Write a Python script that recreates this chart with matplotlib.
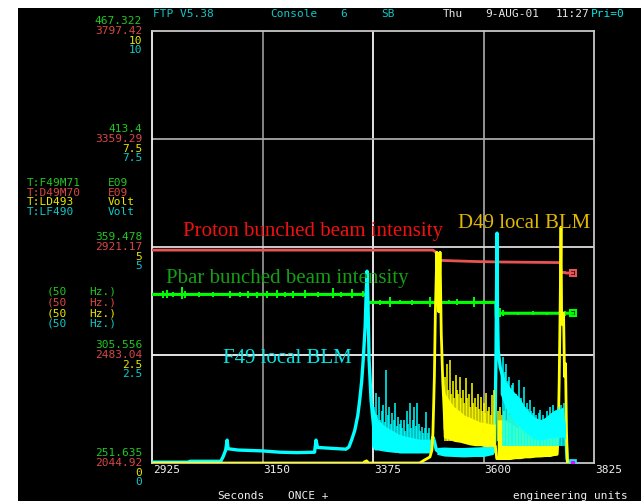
import matplotlib
matplotlib.use("Agg")
import matplotlib.pyplot as plt
from matplotlib.patches import Rectangle

W, H = 641, 501

# time axis (seconds)
t_lim = (2925, 3825)
t_ticks = [2925, 3150, 3375, 3600, 3825]
t_tick_labels = ["2925", "3150", "3375", "3600", "3825"]

# channel scales, bottom and top of the plot
f49_lim = (251.635, 467.322)
d49_lim = (2044.92, 3797.42)
volt_lim = (0, 10)
volt_ticks = [10, 7.5, 5, 2.5, 0]

f49_labels = ["467.322", "413.4", "359.478", "305.556", "251.635"]
d49_labels = ["3797.42", "3359.29", "2921.17", "2483.04", "2044.92"]
ld493_labels = ["10", "7.5", "5", "2.5", "0"]
lf490_labels = ["10", "7.5", "5", "2.5", "0"]

# T:F49M71  pbar bunched intensity (E09)
pbar_t = [2925, 3362, 3363, 3365, 3367, 3625, 3626, 3628, 3631, 3782]
pbar_v = [335.8, 335.8, 333.0, 331.0, 331.8, 331.8, 324.5, 325.0, 326.4, 326.4]
pbar_spk_t = [2947, 2955, 2968, 2986, 2992, 3020, 3049, 3084, 3104, 3120, 3139, 3159,
              3179, 3196, 3212, 3236, 3262, 3293, 3310, 3332, 3354,
              3390, 3410, 3430, 3455, 3491, 3507, 3530, 3546, 3580, 3600,
              3629, 3634, 3640, 3670, 3700, 3730, 3757, 3765]
pbar_spk_lo = [334.0, 334.2, 334.4, 333.5, 334.0, 334.6, 334.3, 334.0, 334.4, 334.0, 334.2, 334.2,
               334.0, 334.3, 334.2, 334.0, 334.3, 334.0, 334.6, 334.2, 334.3,
               330.5, 329.5, 330.8, 330.5, 329.5, 330.0, 330.8, 330.5, 329.5, 330.8,
               324.0, 324.5, 325.0, 325.6, 325.5, 325.6, 324.8, 325.2]
pbar_spk_hi = [337.5, 337.8, 337.0, 339.5, 337.5, 336.8, 337.2, 337.5, 337.0, 337.6, 337.2, 337.4,
               337.8, 337.2, 337.5, 338.0, 337.2, 339.0, 336.8, 338.4, 337.5,
               333.0, 334.5, 332.8, 333.2, 334.5, 334.0, 333.0, 333.4, 334.6, 333.0,
               329.5, 329.0, 328.0, 327.2, 327.5, 327.2, 328.5, 327.5]

# T:D49M70  proton bunched intensity (E09)
proton_t = [2925, 3497, 3501, 3505, 3509, 3511, 3540, 3580, 3627, 3680, 3756,
            3757, 3758, 3766, 3767, 3782]
proton_v = [2908.5, 2908.5, 2903.0, 2896.0, 2876.0, 2867.0, 2865.0, 2862.5, 2860.5,
            2859.5, 2858.0, 2840.0, 2818.0, 2818.0, 2815.7, 2815.7]

# T:LF490  F49 local BLM (Volt)
lf490_t = [2925, 3000, 3002, 3065, 3070, 3075, 3078, 3080, 3100, 3125, 3150, 3185,
           3220, 3256, 3259, 3262, 3290, 3320, 3326, 3332, 3338, 3344, 3348, 3352,
           3355, 3359, 3361, 3363, 3365, 3367, 3371, 3375, 3380, 3430, 3490, 3493,
           3497, 3500, 3504, 3510, 3620, 3623, 3625.5, 3627.5, 3628.5, 3630, 3634,
           3638, 3644, 3654, 3674, 3695, 3715, 3735, 3755, 3766, 3768, 3770, 3772, 3782]
lf490_v = [0.02, 0.02, 0.04, 0.04, 0.15, 0.30, 0.53, 0.33, 0.30, 0.29, 0.28, 0.25,
           0.24, 0.25, 0.53, 0.36, 0.34, 0.32, 0.37, 0.55, 0.76, 1.10, 1.46, 1.90,
           2.38, 3.15, 3.90, 4.44, 3.60, 2.40, 1.46, 1.00, 0.40, 0.26, 0.26, 0.45,
           0.60, 0.50, 0.30, 0.25, 0.25, 0.50, 2.50, 5.32, 3.47, 2.60, 2.22,
           2.05, 1.60, 1.20, 0.85, 0.65, 0.55, 0.58, 0.62, 0.90, 0.60, 0.10, 0.0, 0.0]
lf490_b1_t = [3372, 3378, 3385, 3400, 3415, 3430, 3450, 3470, 3490]
lf490_b1_lo = [0.40, 0.30, 0.30, 0.27, 0.25, 0.24, 0.24, 0.24, 0.26]
lf490_b1_hi = [1.40, 1.20, 1.00, 0.85, 0.75, 0.65, 0.60, 0.55, 0.55]
lf490_b2_t = [3505, 3520, 3540, 3560, 3580, 3600, 3620]
lf490_b2_lo = [0.20, 0.16, 0.15, 0.14, 0.15, 0.15, 0.20]
lf490_b2_hi = [0.36, 0.37, 0.36, 0.36, 0.37, 0.38, 0.40]
lf490_b3_t = [3634, 3644, 3654, 3664, 3674, 3684, 3695, 3705, 3715, 3725, 3735,
              3745, 3755, 3762, 3767]
lf490_b3_lo = [1.60, 1.30, 1.10, 0.95, 0.83, 0.72, 0.62, 0.55, 0.53, 0.55, 0.58,
               0.60, 0.60, 0.60, 0.55]
lf490_b3_hi = [2.22, 1.92, 1.75, 1.62, 1.50, 1.30, 1.15, 1.06, 1.00, 1.05, 1.15,
               1.23, 1.25, 1.30, 0.90]
lf490_spk_t = [3378, 3381, 3384, 3387, 3390, 3393, 3396, 3399, 3402, 3405, 3408, 3411,
               3414, 3417, 3420, 3423, 3426, 3429, 3432, 3435, 3438, 3441, 3444, 3447,
               3450, 3453, 3456, 3459, 3462, 3465, 3468, 3471, 3474, 3477, 3480, 3483,
               3486, 3489,
               3640, 3643, 3646, 3649, 3652, 3655, 3658, 3661, 3664, 3667, 3670, 3673,
               3676, 3679, 3682, 3685, 3688, 3691, 3694, 3697, 3700, 3703, 3706, 3709,
               3712, 3715, 3718, 3721, 3724, 3727, 3730, 3733, 3736, 3739, 3742, 3745,
               3748, 3751, 3754, 3757, 3760, 3763]
lf490_spk_v = [1.30, 1.62, 1.10, 1.53, 1.00, 1.20, 1.35, 0.95, 2.15, 1.10, 1.30, 0.90,
               1.15, 1.00, 1.40, 0.85, 1.07, 0.90, 1.00, 0.80, 1.00, 0.75, 1.20, 0.90,
               1.39, 0.80, 1.00, 1.30, 0.85, 1.39, 0.90, 0.75, 0.84, 0.70, 0.80, 1.19,
               0.70, 0.80,
               2.46, 2.10, 2.30, 1.90, 2.00, 1.70, 1.80, 1.85, 1.50, 1.60, 1.45, 1.92,
               1.50, 1.40, 1.77, 1.30, 1.40, 1.25, 1.46, 1.20, 1.15, 1.30, 1.10, 1.00,
               1.15, 1.23, 1.00, 1.10, 0.95, 1.05, 1.20, 1.00, 1.30, 1.10, 1.35, 1.15,
               1.20, 1.30, 1.07, 1.35, 1.25, 1.40]

# T:LD493  D49 local BLM (Volt)
ld493_t = [2925, 3355, 3358, 3362, 3366, 3470, 3480, 3491, 3495, 3497, 3500, 3502,
           3505, 3507, 3509, 3511.5, 3514, 3517, 3520, 3522, 3624, 3627, 3750, 3752,
           3754, 3756, 3757.8, 3759, 3761, 3763, 3765, 3767, 3769, 3771, 3782]
ld493_v = [0.0, 0.0, 0.03, 0.05, 0.0, 0.0, 0.07, 0.14, 0.30, 0.70, 2.00, 3.50,
           4.88, 3.80, 3.50, 4.88, 3.00, 1.90, 1.20, 0.60, 0.40, 0.10, 0.20, 0.60,
           1.80, 3.50, 5.46, 3.47, 3.20, 3.47, 2.00, 2.30, 0.70, 0.0, 0.0]
ld493_b1_t = [3518, 3522, 3530, 3540, 3552, 3562, 3572, 3583, 3593, 3605, 3615, 3624]
ld493_b1_lo = [0.80, 0.60, 0.55, 0.50, 0.48, 0.45, 0.42, 0.40, 0.40, 0.38, 0.38, 0.40]
ld493_b1_hi = [1.90, 1.60, 1.46, 1.30, 1.20, 1.10, 1.06, 1.00, 0.95, 0.93, 0.90, 0.90]
ld493_b2_t = [3628, 3640, 3654, 3664, 3674, 3684, 3695, 3705, 3715, 3725, 3735, 3745, 3750]
ld493_b2_lo = [0.08, 0.08, 0.08, 0.10, 0.10, 0.12, 0.12, 0.14, 0.14, 0.15, 0.15, 0.18, 0.20]
ld493_b2_hi = [1.00, 1.00, 0.93, 0.85, 0.80, 0.76, 0.70, 0.66, 0.60, 0.62, 0.65, 0.68, 0.70]
ld493_spk_t = [3522, 3525, 3528, 3531, 3534, 3537, 3540, 3543, 3546, 3549, 3552, 3555,
               3558, 3561, 3564, 3567, 3570, 3573, 3576, 3579, 3582, 3585, 3588, 3591,
               3594, 3597, 3600, 3603, 3606, 3609, 3612, 3615, 3618, 3621,
               3630, 3634, 3638, 3642, 3646, 3650, 3654, 3658, 3662, 3666, 3670, 3674,
               3678, 3682, 3686, 3690, 3694, 3698, 3702, 3706, 3710, 3714, 3718, 3722,
               3726, 3730, 3734, 3738, 3742, 3746]
ld493_spk_v = [2.00, 2.30, 1.70, 2.38, 1.60, 1.90, 1.50, 2.04, 1.70, 1.60, 2.00, 1.50,
               1.70, 1.40, 1.97, 1.50, 1.60, 1.30, 1.85, 1.40, 1.50, 1.30, 1.60, 1.25,
               1.53, 1.20, 1.40, 1.15, 1.62, 1.20, 1.30, 1.10, 1.57, 1.69,
               1.20, 1.30, 1.10, 1.20, 1.00, 1.50, 1.10, 1.62, 1.00, 1.20, 0.95, 1.00,
               0.90, 1.10, 0.85, 1.00, 0.80, 0.95, 0.80, 0.90, 0.75, 0.90, 0.80, 0.85,
               0.80, 0.90, 0.80, 0.90, 0.95, 0.80]

GREEN, RED, YELLOW, CYAN = "#00ff00", "#e85454", "#ffff00", "#00ffff"
T_GREEN, T_RED, T_YELLOW, T_CYAN = "#20c820", "#d84848", "#e8e800", "#10c8c8"
MONO = "DejaVu Sans Mono"


def fx(x):
    return x / W


def fy(y):
    return 1 - y / H


fig = plt.figure(figsize=(W / 100, H / 100), dpi=100, facecolor="white")
fig.add_artist(Rectangle((fx(18), 0), 1, fy(8), transform=fig.transFigure,
                         facecolor="black", edgecolor="none", zorder=-5))

ax = fig.add_axes([fx(152), fy(463), (594 - 152) / W, (463 - 31) / H])
ax.set_facecolor("black")
ax.set_xlim(*t_lim)
ax.set_ylim(*volt_lim)
ax.set_xticks([])
ax.set_yticks([])
for side, c in [("left", "#f4f4f4"), ("right", "#c8c8c8"), ("top", "#c8c8c8"), ("bottom", "#c8c8c8")]:
    ax.spines[side].set_color(c)
    ax.spines[side].set_linewidth(1.3)
for t, c in zip(t_ticks[1:-1], ["#909090", "#f4f4f4", "#a0a0a0"]):
    ax.axvline(t, color=c, lw=1.3)
for v, c in zip(volt_ticks[1:-1], ["#a8a8a8", "#dcdcdc", "#f4f4f4"]):
    ax.axhline(v, color=c, lw=1.3)

# one overlay per channel scale, volt channels on top
ax_r = ax.twinx()
ax_r.set_ylim(*d49_lim)
ax_r.axis("off")
ax_g = ax.twinx()
ax_g.set_ylim(*f49_lim)
ax_g.axis("off")
ax_v = ax.twinx()
ax_v.set_ylim(*volt_lim)
ax_v.axis("off")

ax_r.plot(proton_t, proton_v, color=RED, lw=2.0)
ax_r.plot(proton_t[-1:], proton_v[-1:], marker="s", ms=4, mfc="none", mec=RED, mew=1.5)

ax_g.plot(pbar_t, pbar_v, color=GREEN, lw=2.2)
ax_g.vlines(pbar_spk_t, pbar_spk_lo, pbar_spk_hi, color=GREEN, lw=1.4)
ax_g.plot(pbar_t[-1:], pbar_v[-1:], marker="s", ms=4, mfc="none", mec=GREEN, mew=1.5)

ax_v.plot(lf490_t, lf490_v, color=CYAN, lw=2.4, zorder=2)
for bt, lo, hi in [(lf490_b1_t, lf490_b1_lo, lf490_b1_hi), (lf490_b2_t, lf490_b2_lo, lf490_b2_hi)]:
    ax_v.fill_between(bt, lo, hi, color=CYAN, lw=0, zorder=2)
ax_v.fill_between(lf490_b3_t, lf490_b3_lo, lf490_b3_hi, color=CYAN, lw=0, zorder=4)
ax_v.vlines(lf490_spk_t, 0.4, lf490_spk_v, color=CYAN, lw=1.1, zorder=4)

ax_v.plot(ld493_t, ld493_v, color=YELLOW, lw=2.0, zorder=3)
ax_v.fill_between(ld493_b1_t, ld493_b1_lo, ld493_b1_hi, color=YELLOW, lw=0, zorder=3)
ax_v.fill_between(ld493_b2_t, ld493_b2_lo, ld493_b2_hi, color=YELLOW, lw=0, zorder=3)
ax_v.vlines(ld493_spk_t, 0.5, ld493_spk_v, color=YELLOW, lw=1.1, zorder=3)
ax_v.plot(ld493_t[-1:], [0], marker="s", ms=4, mfc="#ff00ff", mec=CYAN, mew=1.2, zorder=5)

# left scale labels, four channels per grid level
ytr = ax.get_yaxis_transform()
for i, v in enumerate(volt_ticks):
    for lab, dy, col in [(f49_labels[i], 6.5, T_GREEN), (d49_labels[i], -3, T_RED),
                         (ld493_labels[i], -12.5, T_YELLOW), (lf490_labels[i], -22, T_CYAN)]:
        ax.annotate(lab, xy=(0, v), xycoords=ytr, xytext=(-10, dy), textcoords="offset pixels",
                    ha="right", va="baseline", color=col, family=MONO, fontsize=8,
                    annotation_clip=False)

# time labels under the plot
xtr = ax.get_xaxis_transform()
for t, lab in zip(t_ticks, t_tick_labels):
    ax.annotate(lab, xy=(t, 0), xycoords=xtr, xytext=(1, -10), textcoords="offset pixels",
                ha="left", va="baseline", color="#f0f0f0", family=MONO, fontsize=8,
                annotation_clip=False)


def mono(x, y, s, c):
    fig.text(fx(x), fy(y), s, color=c, family=MONO, fontsize=8, ha="left", va="baseline")


# header line
mono(153, 17.3, "FTP V5.38", T_CYAN)
mono(270, 17.3, "Console", T_CYAN)
mono(340, 17.3, "6", T_CYAN)
mono(381, 17.3, "SB", T_CYAN)
mono(443, 17.3, "Thu", "#e8e8e8")
mono(485, 17.3, "9-AUG-01", "#e8e8e8")
mono(556, 17.3, "11:27", "#e8e8e8")
mono(591, 17.3, "Pri=0", "#00e8e8")

# channel names
for y, name, unit, col in [(186, "T:F49M71", "E09", T_GREEN), (195.7, "T:D49M70", "E09", T_RED),
                           (205.3, "T:LD493", "Volt", T_YELLOW), (215, "T:LF490", "Volt", T_CYAN)]:
    mono(27, y, name, col)
    mono(108, y, unit, col)
for y, col in [(295, T_GREEN), (305.7, T_RED), (316.3, T_YELLOW), (326.7, T_CYAN)]:
    mono(47, y, "(50", col)
    mono(89, y, "Hz.)", col)

# footer
mono(217, 499, "Seconds", "#f0f0f0")
mono(288, 499, "ONCE +", "#f0f0f0")
mono(513, 499, "engineering units", "#f0f0f0")

# trace annotations
SERIF = ["Liberation Serif", "DejaVu Serif"]
for x, y, s, col in [(183, 236, "Proton bunched beam intensity", "#f01010"),
                     (166, 283.3, "Pbar bunched beam intensity", "#14a014"),
                     (223, 363.3, "F49 local BLM", "#00e8e8"),
                     (458, 228.3, "D49 local BLM", "#e0b800")]:
    fig.text(fx(x), fy(y), s, color=col, family=SERIF, fontsize=15, ha="left", va="baseline")

fig.savefig("out.png", dpi=100, facecolor=fig.get_facecolor())
